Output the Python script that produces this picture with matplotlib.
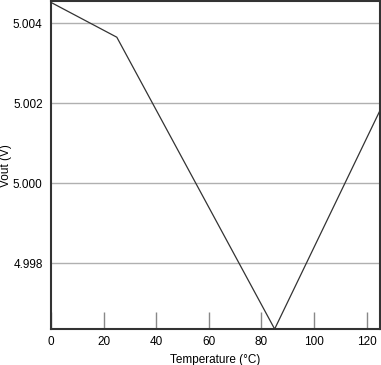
import matplotlib
matplotlib.use("Agg")
import matplotlib.pyplot as plt

# Vout vs temperature
temperature = [0, 25, 85, 125]
vout = [5.00452, 5.00365, 4.99635, 5.00181]

x_ticks = [0, 20, 40, 60, 80, 100, 120]
y_ticks = [4.998, 5.000, 5.002, 5.004]

plt.rcParams['font.family'] = ['Liberation Sans', 'DejaVu Sans']

fig = plt.figure(figsize=(3.81, 3.65), dpi=100)
ax = fig.add_axes([0.134, 0.0986, 0.863, 0.898])

ax.plot(temperature, vout, color='#333333', linewidth=0.9)

ax.set_xlim(0, 125)
ax.set_ylim(4.99635, 5.00455)
ax.set_xticks(x_ticks)
ax.set_yticks(y_ticks)
ax.set_yticklabels(['%.3f' % v for v in y_ticks])

ax.yaxis.grid(True, color='#b0b0b0', linewidth=1)
ax.set_axisbelow(True)

ax.tick_params(axis='x', direction='in', length=12, width=1, color='#888888',
               labelsize=8.5, pad=5)
ax.tick_params(axis='y', length=0, labelsize=8.5, pad=6)

for side in ['left', 'bottom', 'right', 'top']:
    ax.spines[side].set_color('#333333')
    ax.spines[side].set_linewidth(1.5)

ax.set_xlabel('Temperature (°C)', fontsize=8.5)
ax.set_ylabel('Vout (V)', fontsize=8.5)
ax.xaxis.set_label_coords(0.5, -0.075)
ax.yaxis.set_label_coords(-0.12, 0.5)

fig.savefig('out.png', dpi=100)
